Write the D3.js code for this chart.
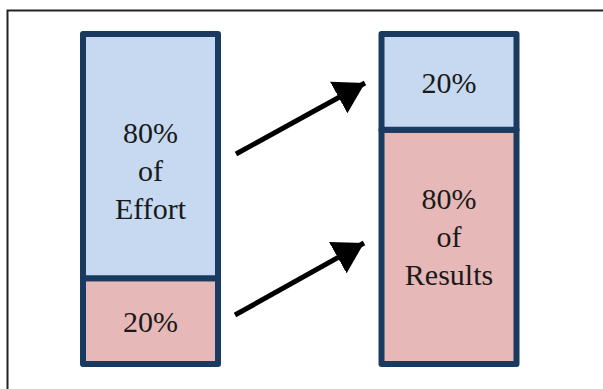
<!DOCTYPE html>
<html>
<head>
<meta charset="utf-8">
<script src="https://cdn.jsdelivr.net/npm/d3@7"></script>
<style>
  html, body { margin: 0; padding: 0; background: #fff; }
  svg { display: block; }
</style>
</head>
<body>
<svg id="chart" width="603" height="389"></svg>
<script>
// ---- data ----
const columns = ["Effort", "Results"];
// stacked shares as drawn (bottom segment first)
const bottomShare = [26, 71];
const topShare = [74, 29];
const bottomLabels = [["20%"], ["80%", "of", "Results"]];
const topLabels = [["80%", "of", "Effort"], ["20%"]];
const bottomColor = "#e6b8b7";
const topColor = "#c6d9f0";

const svg = d3.select("#chart");

// frame (extends past right and bottom edges)
svg.append("rect")
  .attr("x", 7.5).attr("y", 10.5)
  .attr("width", 700).attr("height", 500)
  .attr("fill", "none").attr("stroke", "#222").attr("stroke-width", 2);

const x = d3.scalePoint().domain(columns).range([150.5, 449]);
const bw = 135;
const y = d3.scaleLinear().domain([0, 100]).range([364, 34]);

const navy = "#1b3a5f";
// vertical nudges of the multi-line text blocks (layout only)
const blockShift = [[0, 14], [-11, 0]];

columns.forEach((c, i) => {
  const cx = x(c);
  const g = svg.append("g");
  const segs = [
    { lo: 0, hi: bottomShare[i], fill: bottomColor, label: bottomLabels[i], shift: blockShift[i][0] },
    { lo: bottomShare[i], hi: bottomShare[i] + topShare[i], fill: topColor, label: topLabels[i], shift: blockShift[i][1] }
  ];
  g.selectAll("rect.seg").data(segs).join("rect")
    .attr("class", "seg")
    .attr("x", cx - bw / 2)
    .attr("y", d => y(d.hi))
    .attr("width", bw)
    .attr("height", d => y(d.lo) - y(d.hi))
    .attr("fill", d => d.fill)
    .attr("stroke", navy)
    .attr("stroke-width", 6)
    .attr("stroke-linejoin", "round");

  segs.forEach(d => {
    const mid = (y(d.lo) + y(d.hi)) / 2;
    const n = d.label.length;
    const lh = 38;
    const t = g.append("text")
      .attr("text-anchor", "middle")
      .attr("font-family", "'Liberation Serif', 'DejaVu Serif', serif")
      .attr("font-size", 30)
      .attr("fill", "#1a1a1a");
    d.label.forEach((s, k) => {
      t.append("tspan")
        .attr("x", cx)
        .attr("y", mid + d.shift + (k - (n - 1) / 2) * lh + 11)
        .text(s);
    });
  });
});

// arrows from left column segments to right column segments
const arrows = [
  { x1: 236, y1: 154, x2: 365, y2: 83 },
  { x1: 235, y1: 315, x2: 364, y2: 243 }
];
svg.append("defs").append("marker")
  .attr("id", "ah")
  .attr("viewBox", "0 0 30 36")
  .attr("refX", 30).attr("refY", 18)
  .attr("markerWidth", 30).attr("markerHeight", 36)
  .attr("markerUnits", "userSpaceOnUse")
  .attr("orient", "auto")
  .append("path").attr("d", "M0,0 L30,18 L0,36 Z").attr("fill", "#000");

svg.selectAll("line.arrow").data(arrows).join("line")
  .attr("class", "arrow")
  .attr("x1", d => d.x1).attr("y1", d => d.y1)
  .attr("x2", d => d.x2).attr("y2", d => d.y2)
  .attr("stroke", "#000").attr("stroke-width", 5)
  .attr("marker-end", "url(#ah)");
</script>
</body>
</html>
